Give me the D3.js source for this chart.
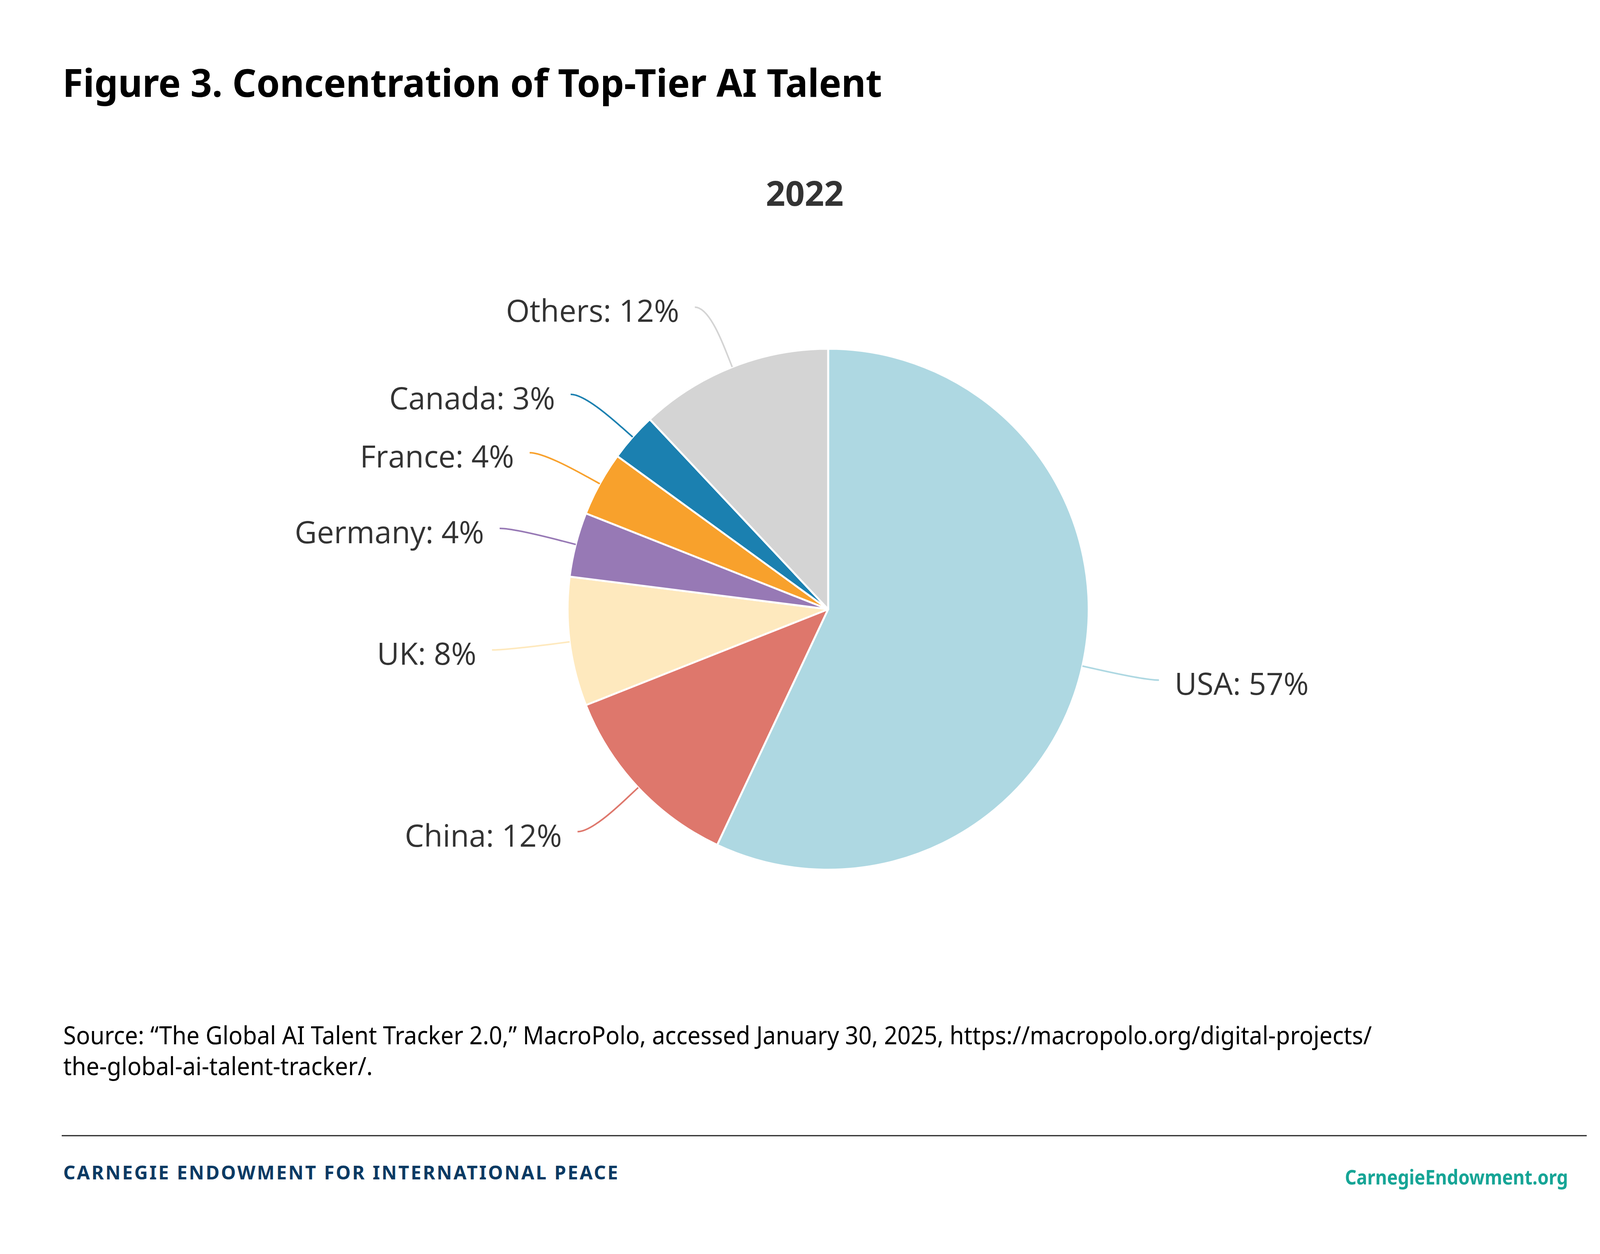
<!DOCTYPE html>
<html>
<head>
<meta charset="utf-8">
<script src="https://cdn.jsdelivr.net/npm/d3@7"></script>
<style>
    body { margin: 0; background: #fff; }
    svg { display: block; }
</style>
</head>
<body>
<div id="chart"></div>
<script>
// chart data
const countries = ['USA', 'China', 'UK', 'Germany', 'France', 'Canada', 'Others'];
const shares = [57, 12, 8, 4, 4, 3, 12];
const sliceColours = ['#aed8e2', '#de776c', '#fee9be', '#9779b5', '#f8a12c', '#1b80b0', '#d4d4d4'];

const titleText = 'Figure 3. Concentration of Top-Tier AI Talent';
const subtitleText = '2022';
const sourceLines = [
    'Source: \u201CThe Global AI Talent Tracker 2.0,\u201D MacroPolo, accessed January 30, 2025, https://macropolo.org/digital-projects/',
    'the-global-ai-talent-tracker/.'
];
const footerLeft = 'CARNEGIE ENDOWMENT FOR INTERNATIONAL PEACE';
const footerRight = 'CarnegieEndowment.org';

(function () {

    let
        width = 4167,
        height = 3211,
        cx = 2120,
        cy = 1560,
        r = 667,
        labelR = r + 165,
        svg = d3.select('#chart')
            .append('svg')
            .attr('width', width)
            .attr('height', height);

    // heading
    svg.append('text')
        .attr('x', 160)
        .attr('y', 248)
        .attr('textLength', 2098)
        .attr('lengthAdjust', 'spacingAndGlyphs')
        .style('font-family', '"Noto Sans", sans-serif')
        .style('font-weight', 700)
        .style('font-size', '98px')
        .style('fill', '#000')
        .text(titleText);

    svg.append('text')
        .attr('x', 2060)
        .attr('y', 527)
        .attr('text-anchor', 'middle')
        .style('font-family', '"Open Sans", sans-serif')
        .style('font-weight', 700)
        .style('font-size', '87px')
        .style('fill', '#333')
        .text(subtitleText);

    // pie
    let
        pie = d3.pie().sort(null).value(d => d)(shares),
        arc = d3.arc().innerRadius(0).outerRadius(r),
        g = svg.append('g').attr('transform', 'translate(' + cx + ',' + cy + ')');

    g.selectAll('path.slice')
        .data(pie)
        .enter()
        .append('path')
        .attr('class', 'slice')
        .attr('d', arc)
        .style('fill', (d, i) => sliceColours[i])
        .style('stroke', '#fff')
        .style('stroke-width', 5)
        .style('stroke-linejoin', 'round');

    // labels with soft connectors
    function polar(a, rad) {
        return [Math.sin(a) * rad, -Math.cos(a) * rad];
    }

    pie.forEach(function (d, i) {

        let
            a = (d.startAngle + d.endAngle) / 2,
            side = Math.sin(a) < 0 ? -1 : 1,
            anchor = polar(a, labelR),
            touch = polar(a, r),
            brk = polar(a, r + 36),
            start = [anchor[0] + side * 35, anchor[1]],
            path = d3.path();

        path.moveTo(start[0], start[1]);
        path.bezierCurveTo(
            start[0] - side * 36, start[1],
            2 * brk[0] - touch[0], 2 * brk[1] - touch[1],
            brk[0], brk[1]);
        path.lineTo(touch[0], touch[1]);

        g.append('path')
            .attr('d', path.toString())
            .style('fill', 'none')
            .style('stroke', sliceColours[i])
            .style('stroke-width', 4);

        g.append('text')
            .attr('x', anchor[0] + side * 75)
            .attr('y', anchor[1] + 38)
            .attr('text-anchor', side < 0 ? 'end' : 'start')
            .style('font-family', '"Open Sans", sans-serif')
            .style('font-size', '78px')
            .style('fill', '#333')
            .text(countries[i] + ': ' + d.data + '%');
    });

    // source note
    svg.selectAll('text.source')
        .data(sourceLines)
        .enter()
        .append('text')
        .attr('class', 'source')
        .attr('x', 162)
        .attr('y', (d, i) => 2674 + i * 79)
        .attr('textLength', (d, i) => i === 0 ? 3350 : 792)
        .attr('lengthAdjust', 'spacingAndGlyphs')
        .style('font-family', '"Noto Sans", sans-serif')
        .style('font-size', '64px')
        .style('fill', '#000')
        .text(d => d);

    // footer
    svg.append('line')
        .attr('x1', 158)
        .attr('x2', 4062)
        .attr('y1', 2908)
        .attr('y2', 2908)
        .style('stroke', '#222')
        .style('stroke-width', 3);

    svg.append('text')
        .attr('x', 162)
        .attr('y', 3020)
        .attr('textLength', 1420)
        .attr('lengthAdjust', 'spacing')
        .style('font-family', '"Noto Sans", sans-serif')
        .style('font-weight', 700)
        .style('font-size', '48px')
        .style('fill', '#0b3a63')
        .text(footerLeft);

    svg.append('text')
        .attr('x', 3443)
        .attr('y', 3033)
        .attr('textLength', 571)
        .attr('lengthAdjust', 'spacingAndGlyphs')
        .style('font-family', '"Noto Sans", sans-serif')
        .style('font-weight', 700)
        .style('font-size', '52px')
        .style('fill', '#16a596')
        .text(footerRight);

})();
</script>
</body>
</html>
